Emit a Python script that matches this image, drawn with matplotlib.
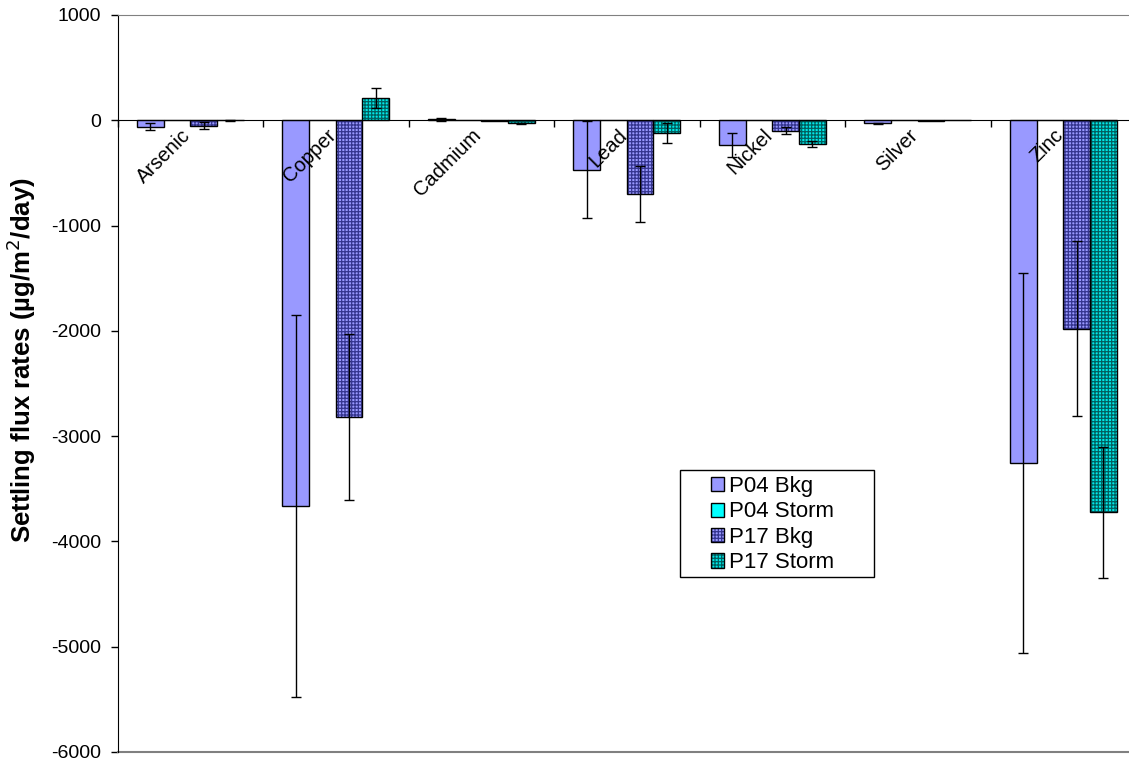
import numpy as np
import matplotlib
matplotlib.use("Agg")
import matplotlib.pyplot as plt
from matplotlib.patches import Patch, Rectangle

plt.rcParams['font.family'] = ['Liberation Sans', 'DejaVu Sans']
plt.rcParams['hatch.linewidth'] = 0.9
plt.rcParams['axes.unicode_minus'] = False

categories = ["Arsenic", "Copper", "Cadmium", "Lead", "Nickel", "Silver", "Zinc"]
series = ["P04 Bkg", "P04 Storm", "P17 Bkg", "P17 Storm"]

p04_bkg = [-60, -3665, 8, -470, -235, -28, -3257]
p04_bkg_err = [30, 1815, 15, 460, 115, 6, 1805]
p04_storm = [0, 0, 0, 0, 0, 0, 0]
p04_storm_err = [0, 0, 0, 0, 0, 0, 0]
p17_bkg = [-50, -2820, -8, -700, -100, -8, -1980]
p17_bkg_err = [35, 790, 0, 265, 32, 0, 830]
p17_storm = [0, 210, -28, -117, -222, 5, -3725]
p17_storm_err = [5, 95, 5, 95, 27, 0, 620]

values = [p04_bkg, p04_storm, p17_bkg, p17_storm]
errors = [p04_bkg_err, p04_storm_err, p17_bkg_err, p17_storm_err]
face = ["#9999FF", "#00FFFF", "#9999FF", "#00E8E8"]
hatch = [None, None, "+++++", "+++++"]
hatch_col = [None, None, "#35358F", "#006060"]

W, H = 1129, 763
fig = plt.figure(figsize=(W / 100, H / 100), dpi=100)
ax = fig.add_axes([117.5 / W, 11 / H, 1018.5 / W, 737 / H])

x = np.arange(len(categories))
w = 0.1835
handles = []
for k in range(4):
    pos = x + (k - 1.5) * w
    if hatch[k]:
        ax.bar(pos, values[k], w, color=face[k], hatch=hatch[k],
               edgecolor=hatch_col[k], linewidth=0, zorder=2)
        h1 = Patch(facecolor=face[k], hatch=hatch[k], edgecolor=hatch_col[k], linewidth=0)
    else:
        ax.bar(pos, values[k], w, color=face[k], linewidth=0, zorder=2)
        h1 = Patch(facecolor=face[k], linewidth=0)
    ax.bar(pos, values[k], w, fill=False, edgecolor="black", linewidth=1.0, zorder=3)
    h2 = Patch(fill=False, edgecolor="black", linewidth=1.0)
    handles.append((h1, h2))
    err = np.array(errors[k], dtype=float)
    m = err > 0
    ax.errorbar(pos[m], np.array(values[k])[m], yerr=err[m], fmt="none",
                ecolor="black", elinewidth=1.0, capsize=3.3, capthick=1.0, zorder=4)

ax.set_xlim(-0.5, len(categories) - 0.5)
ax.set_ylim(-6000, 1000)
ax.set_yticks(np.arange(-6000, 1001, 1000))
ax.tick_params(axis="y", direction="out", length=5, width=1, labelsize=14, pad=7)

ax.spines["bottom"].set_position(("data", 0))
ax.spines["bottom"].set_color("black")
ax.spines["bottom"].set_zorder(5)
ax.spines["right"].set_visible(False)
ax.spines["top"].set_color("#808080")
ax.axhline(-6000, color="#808080", linewidth=1.5, clip_on=False)
ax.set_xticks(np.arange(-0.5, len(categories) + 0.5, 1))
ax.set_xticklabels([])
ax.tick_params(axis="x", direction="out", length=5, width=1)

for i, c in enumerate(categories):
    ax.annotate(c, xy=(i, 0), xytext=(-7, -4), textcoords="offset points",
                rotation=45, rotation_mode="anchor", ha="right", va="top", fontsize=14.5)

ax.set_ylabel("Settling flux rates (µg/m$^2$/day)", fontsize=18.5, fontweight="bold")
ax.yaxis.set_label_coords(-0.078, 0.532)

# legend frame (Excel leaves a wide left margin)
ax.add_patch(Rectangle((680 / W, 1 - 577 / H), 194 / W, 107 / H, transform=fig.transFigure,
                       facecolor="white", edgecolor="black", linewidth=1.0,
                       zorder=4.5, clip_on=False))
ax.legend(handles, series, loc="upper left", bbox_to_anchor=(711 / W, 1 - 476 / H),
          bbox_transform=fig.transFigure, borderaxespad=0, borderpad=0,
          fontsize=16, frameon=False, handlelength=0.6, handleheight=0.6,
          handletextpad=0.23, labelspacing=0.2)

fig.savefig("out.png", dpi=100)
